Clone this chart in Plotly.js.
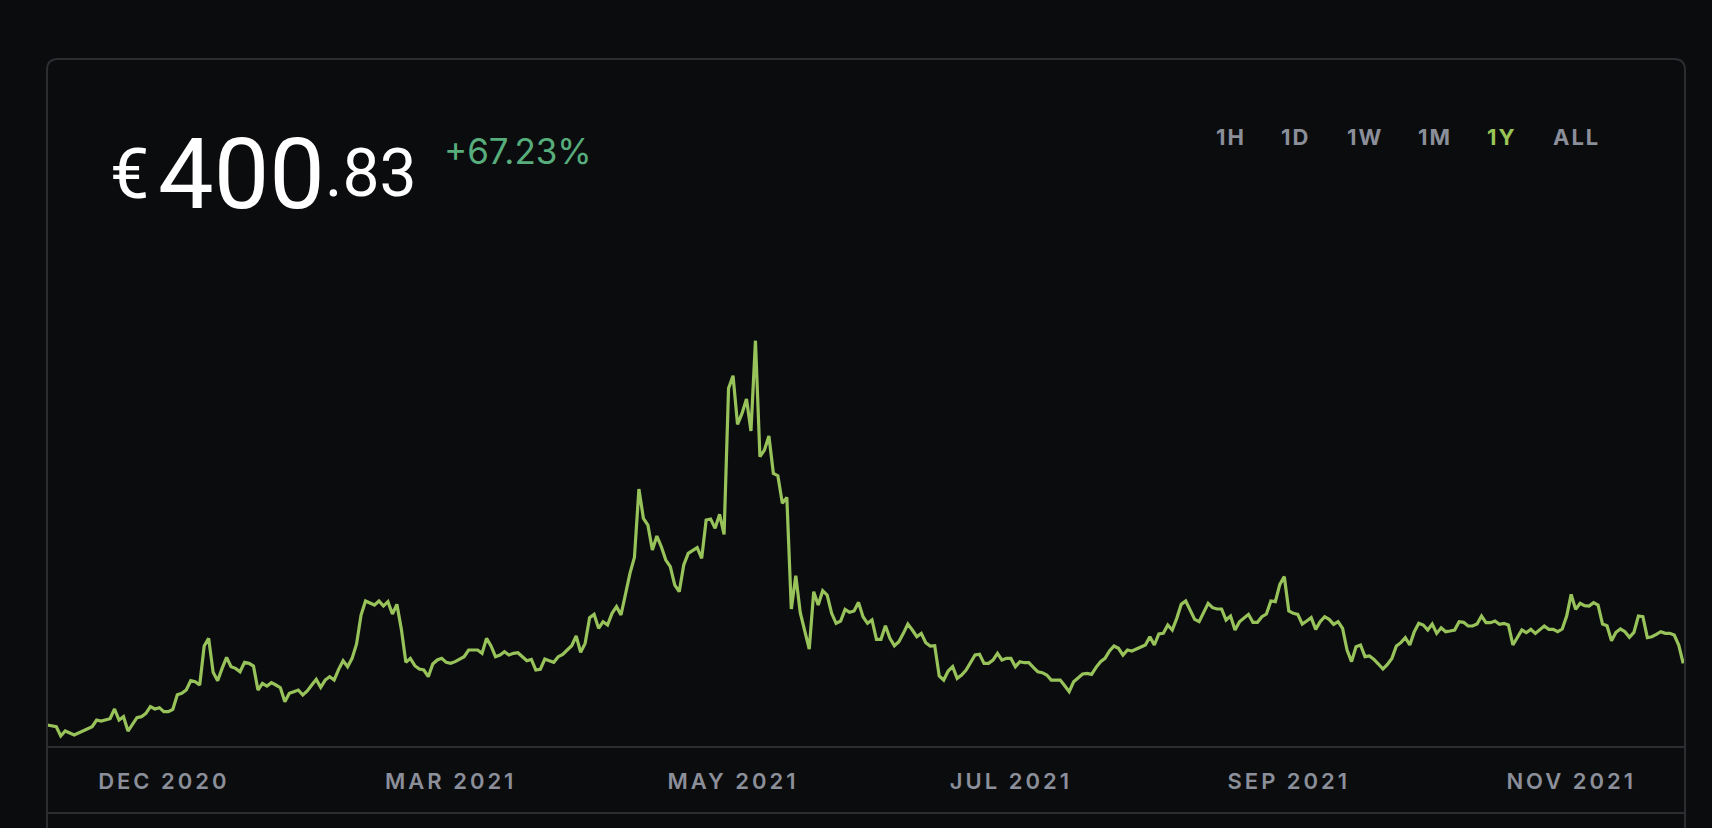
<!DOCTYPE html>
<html>
<head>
<meta charset="utf-8">
<script src="https://cdn.plot.ly/plotly-3.0.1.min.js"></script>
<style>
  html, body { margin: 0; padding: 0; background: #0b0c0e; }
  #chart { width: 1712px; height: 828px; }
</style>
</head>
<body>
<div id="chart"></div>
<script>
// ---- Data ----
const days = [
  0,2,3,4,6,8,9,10,11,12,14,15,16,17,18,20,21,22,23,24,25,26,27,28,29,30,31,32,33,34,35,36,37,38,39,40,
  41,42,43,44,45,46,47,48,49,50,51,52,53,54,55,56,57,58,59,60,61,62,63,64,65,66,67,68,69,70,71,72,73,74,
  75,76,77,78,79,80,81,82,83,84,85,86,87,88,89,90,
  91,93,94,96,97,98,99,100,101,102,103,104,105,106,107,108,109,110,111,112,113,114,115,116,117,118,119,120,
  121,122,123,124,125,126,127,128,129,130,131,132,133,134,135,136,137,138,139,140,141,142,143,145,146,147,
  148,149,150,151,152,153,154,155,156,157,158,159,160,161,162,163,164,165,166,167,168,169,170,171,172,173,
  174,175,176,177,178,179,180,181,182,183,184,
  185,186,187,188,189,190,191,192,193,194,195,196,197,198,199,200,201,202,203,204,205,206,207,208,209,210,
  211,212,213,214,215,216,217,218,219,220,221,222,223,224,225,226,227,228,229,230,231,232,233,234,235,236,
  237,238,239,240,241,242,243,244,245,246,247,248,249,250,251,252,253,254,255,256,257,258,259,260,261,262,
  263,264,265,266,267,268,269,270,271,272,273,274,275,
  276,277,278,279,280,281,282,283,284,285,286,287,288,289,290,291,292,293,294,295,296,297,298,299,300,301,
  302,303,304,305,306,307,308,309,310,311,312,313,314,315,316,317,318,319,320,321,322,323,324,325,326,327,
  328,329,330,331,332,333,334,335,336,337,338,339,340,341,342,343,344,345,346,347,348,349,350,351,352,353,
  354,355,356,357,358,359,360,361,362,363,364,365
];

const prices = [
  239.69,235.2,210.9,223.9,213.5,223.9,228.3,235.2,252.7,250.1,256.1,281.4,252.7,261.4,223.9,258.8,261.4,270.1,287.5,281.4,284.9,274.4,274.4,280.5,318.8,322.3,331.0,355.4,352.8,344.1,445.9,466.0,377.2,355.4,387.6,416.4,
  392.0,387.6,378.9,403.3,400.7,393.7,331.0,348.4,341.5,350.2,344.1,337.1,300.6,322.3,326.7,331.0,318.0,328.4,344.1,358.9,338.0,357.1,365.9,357.1,385.0,407.6,392.0,413.7,451.2,526.9,563.5,557.4,553.1,563.5,
  550.4,561.8,529.5,554.8,489.5,403.3,413.7,394.6,385.9,383.3,365.9,398.9,409.4,413.7,403.3,400.7,
  405.1,418.1,435.5,435.5,426.8,466.0,446.0,418.1,422.4,431.2,422.4,426.8,428.5,418.1,407.6,411.1,383.3,385.0,412.0,407.6,403.3,418.1,424.2,435.5,446.8,472.1,429.4,452.9,
  520.0,528.7,492.1,509.5,500.8,531.3,548.7,526.9,583.5,635.8,677.6,856.1,779.4,762.0,696.7,733.3,705.4,670.6,653.2,605.3,587.9,657.5,688.0,702.8,674.9,775.1,
  777.7,753.3,789.9,737.6,1119.0,1152.1,1025.0,1053.7,1091.1,1007.6,1243.5,940.5,957.9,994.5,897.0,890.9,818.6,834.3,542.6,629.7,533.0,487.7,438.1,587.9,553.1,590.5,
  579.2,531.3,505.2,511.3,541.7,533.9,537.4,560.0,522.6,505.2,513.9,
  463.4,463.4,499.1,466.0,446.8,457.3,479.0,503.4,487.7,470.3,479.0,454.7,446.0,446.8,367.6,357.1,380.7,392.0,361.5,370.2,383.3,403.3,422.4,424.2,400.7,400.7,
  409.4,426.8,409.4,413.7,413.7,392.0,405.1,402.4,402.4,390.2,378.9,376.3,370.2,357.1,357.1,357.1,342.3,326.7,352.8,363.2,372.8,374.6,372.0,390.2,405.1,413.7,
  432.9,446.0,439.9,422.4,435.5,432.9,438.1,441.6,448.6,470.3,448.6,477.3,479.0,500.8,487.7,518.2,554.8,563.5,540.0,515.6,509.5,533.0,557.4,546.1,542.6,542.6,
  513.9,524.3,487.7,509.5,518.2,528.7,507.8,507.8,522.6,529.6,563.5,561.8,607.0,
  627.1,537.4,531.3,528.7,503.4,511.3,520.0,489.5,509.5,522.6,515.6,502.6,509.5,492.1,435.5,405.1,444.2,448.6,418.1,419.8,411.1,398.9,385.9,398.1,413.7,446.0,
  454.7,467.7,448.6,483.4,505.2,500.8,487.7,503.4,479.0,493.8,483.4,485.1,487.7,509.5,507.8,498.2,498.2,503.4,524.3,506.9,506.9,511.3,502.6,505.2,500.8,448.6,
  468.6,487.7,480.8,489.5,479.0,487.7,498.2,489.5,489.5,483.4,490.4,524.3,580.9,541.7,557.4,551.3,550.4,559.2,553.1,503.4,499.1,459.9,481.7,490.4,483.4,468.6,
  481.7,524.3,522.6,467.7,470.3,476.4,483.4,479.0,479.0,474.7,448.6,400.83
];

const tickDays   = [26, 90, 153, 215, 277, 340];
const tickLabels = ['DEC 2020', 'MAR 2021', 'MAY 2021', 'JUL 2021', 'SEP 2021', 'NOV 2021'];
const rangeLabels = ['1H', '1D', '1W', '1M', '1Y', 'ALL'];
const activeRange = '1Y';
const priceWhole = '400';
const priceCents = '.83';
const currency = '€';
const changeText = '+67.23%';

// ---- Styles ----
const BG = '#0b0c0e';
const BORDER = '#2b2d31';
const LINE = '#98c25a';
const GRAY = '#8b8f9a';
const GREEN = '#57ae7c';
const FONT = 'Inter, "Noto Sans", sans-serif';
const PRICE_FONT = 'Roboto, "Liberation Sans", sans-serif';

const trace = {
  x: days,
  y: prices,
  type: 'scatter',
  mode: 'lines',
  line: { color: LINE, width: 3.2, shape: 'linear' },
  hoverinfo: 'skip'
};

// Card border (rounded top corners) in paper units
const cornerX = 11 / 1638, cornerY = 11 / 446, cardTop = 1.5404;
const cardPath = `M 0,-0.4 L 0,${cardTop - cornerY} Q 0,${cardTop} ${cornerX},${cardTop} L ${1 - cornerX},${cardTop} Q 1,${cardTop} 1,${cardTop - cornerY} L 1,-0.4`;

const rangeX = [0.7228, 0.7625, 0.8046, 0.8474, 0.8883, 0.9335];

const annotations = [
  { text: currency, x: 0.0375, y: 1.2836, xref: 'paper', yref: 'paper', xanchor: 'left', yanchor: 'middle',
    showarrow: false, font: { family: PRICE_FONT, size: 70, color: '#ffffff', weight: 400 } },
  { text: priceWhole, x: 0.0665, y: 1.2836, xref: 'paper', yref: 'paper', xanchor: 'left', yanchor: 'middle',
    showarrow: false, font: { family: PRICE_FONT, size: 99, color: '#ffffff', weight: 400 } },
  { text: priceCents, x: 0.1685, y: 1.2836, xref: 'paper', yref: 'paper', xanchor: 'left', yanchor: 'middle',
    showarrow: false, font: { family: PRICE_FONT, size: 66, color: '#ffffff', weight: 400 } },
  { text: changeText, x: 0.2410, y: 1.333, xref: 'paper', yref: 'paper', xanchor: 'left', yanchor: 'middle',
    showarrow: false, font: { family: FONT, size: 35, color: GREEN, weight: 400 } }
];
rangeLabels.forEach((lab, i) => {
  annotations.push({
    text: lab, x: rangeX[i], y: 1.3655, xref: 'paper', yref: 'paper', xanchor: 'center', yanchor: 'middle',
    showarrow: false, font: { family: FONT, size: 22, color: lab === activeRange ? '#9ac456' : GRAY, weight: 700 }
  });
});

const layout = {
  width: 1712,
  height: 828,
  paper_bgcolor: BG,
  plot_bgcolor: BG,
  margin: { l: 47, r: 27, t: 300, b: 82, pad: 0 },
  showlegend: false,
  xaxis: {
    range: [-0.07, 365.4],
    showgrid: false, zeroline: false,
    showline: true, linecolor: BORDER, linewidth: 2,
    tickmode: 'array', tickvals: tickDays, ticktext: tickLabels,
    ticks: '', ticklabelstandoff: 15,
    tickfont: { family: FONT, size: 22, color: GRAY, weight: 600 },
    fixedrange: true
  },
  yaxis: {
    range: [184.8, 1349.8],
    visible: false, showgrid: false, zeroline: false, fixedrange: true
  },
  shapes: [
    { type: 'path', xref: 'paper', yref: 'paper', path: cardPath, line: { color: BORDER, width: 2 } },
    { type: 'line', xref: 'paper', yref: 'paper', x0: 0, x1: 1, y0: -0.1502, y1: -0.1502, line: { color: BORDER, width: 2 } }
  ],
  annotations: annotations
};

Plotly.newPlot('chart', [trace], layout, { displayModeBar: false, staticPlot: true }).then(gd => {
  gd.querySelectorAll('.xtick text').forEach(t => t.setAttribute('letter-spacing', '3px'));
  const anns = gd.querySelectorAll('.annotation-text');
  anns.forEach((t, i) => { if (i >= 4) t.setAttribute('letter-spacing', '2px'); });
});
</script>
</body>
</html>
